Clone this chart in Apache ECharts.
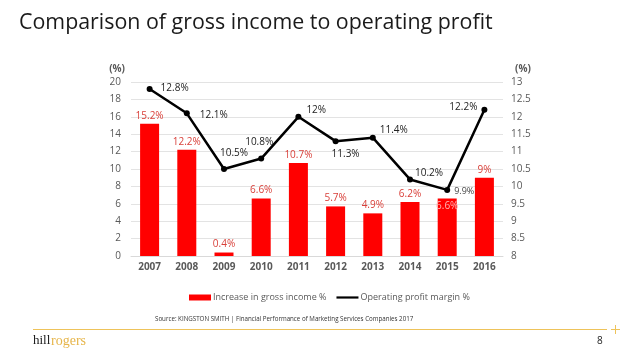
<!DOCTYPE html>
<html>
<head>
<meta charset="utf-8">
<script src="https://cdn.jsdelivr.net/npm/echarts@6/dist/echarts.min.js"></script>
<style>
html,body{margin:0;padding:0;background:#fff;}
#chart{width:638px;height:359px;}
</style>
</head>
<body>
<div id="chart"></div>
<script>
var categories = ['2007','2008','2009','2010','2011','2012','2013','2014','2015','2016'];
var grossIncome = [15.2, 12.2, 0.4, 6.6, 10.7, 5.7, 4.9, 6.2, 6.6, 9];
var profitMargin = [12.8, 12.1, 10.5, 10.8, 12, 11.3, 11.4, 10.2, 9.9, 12.2];
var leftTicks = {min: 0, max: 20, interval: 2};
var rightTicks = {min: 8, max: 13, interval: 0.5};
var seriesNames = ['Increase in gross income %', 'Operating profit margin %'];

var lineLabelCfg = [
  {position:'right', distance:8, offset:[0,-1]},
  {position:'right', distance:10, offset:[0,2]},
  {position:'top', distance:8, offset:[10,0]},
  {position:'top', distance:8, offset:[-2,0]},
  {position:'right', distance:5, offset:[0,-7]},
  {position:'bottom', distance:5, offset:[10,0]},
  {position:'right', distance:4, offset:[0,-8]},
  {position:'right', distance:2, offset:[0,-6]},
  {position:'right', distance:4, offset:[0,2], small:true},
  {position:'left', distance:4, offset:[0,-3]}
];

var barData = grossIncome.map(function(v, i){
  var d = {value: v};
  if (i === 8) {
    d.label = {position:'insideTop', distance:3, color:'#ffb3b3'};
  }
  return d;
});
var lineData = profitMargin.map(function(v, i){
  var c = lineLabelCfg[i];
  var lab = {position:c.position, distance:c.distance, offset:c.offset};
  if (c.small) { lab.fontSize = 9; lab.color = '#444'; }
  return {value: v, label: lab};
});

var chart = echarts.init(document.getElementById('chart'), null, {renderer:'canvas'});
var font = 'Open Sans';
chart.setOption({
  animation: false,
  backgroundColor: '#fff',
  title: {
    text: 'Comparison of gross income to operating profit',
    left: 14, top: 7,
    textStyle: {fontFamily: font, fontSize: 21.4, fontWeight: 'normal', color: '#1a1a1a'}
  },
  grid: {left: 131, right: 135, top: 82, bottom: 103},
  legend: {
    left: 184, top: 288,
    itemGap: 10, itemWidth: 22, itemHeight: 6,
    textStyle: {fontFamily: font, fontSize: 9, color: '#595959', padding: [0,0,0,-3]},
    data: [
      {name: seriesNames[0], icon: 'rect'},
      {name: seriesNames[1], icon: 'path://M0,0 L40,0 L40,4 L0,4 Z'}
    ]
  },
  xAxis: {
    type: 'category', data: categories,
    axisLine: {show: true, lineStyle: {color: '#d9d9d9'}},
    axisTick: {show: false},
    axisLabel: {fontFamily: font, fontSize: 10, fontWeight: 'bold', color: '#595959', margin: 6}
  },
  yAxis: [
    {
      type: 'value', min: leftTicks.min, max: leftTicks.max, interval: leftTicks.interval,
      name: '(%)', nameLocation: 'end', nameGap: 8,
      nameTextStyle: {fontFamily: font, fontSize: 10, color: '#595959', fontWeight: 'bold', align: 'right', padding:[0,6,0,0]},
      axisLine: {show: false}, axisTick: {show: false},
      axisLabel: {fontFamily: font, fontSize: 10, color: '#595959', margin: 10},
      splitLine: {lineStyle: {color: '#e3e3e3'}}
    },
    {
      type: 'value', min: rightTicks.min, max: rightTicks.max, interval: rightTicks.interval,
      name: '(%)', nameLocation: 'end', nameGap: 8,
      nameTextStyle: {fontFamily: font, fontSize: 10, color: '#595959', fontWeight: 'bold', align: 'left', padding:[0,0,0,12]},
      axisLine: {show: false}, axisTick: {show: false},
      axisLabel: {fontFamily: font, fontSize: 10, color: '#595959', margin: 8},
      splitLine: {show: false}
    }
  ],
  series: [
    {
      name: seriesNames[0], type: 'bar', yAxisIndex: 0,
      data: barData, barWidth: 19,
      itemStyle: {color: '#ff0000'},
      label: {show: true, position: 'top', distance: 3, formatter: '{c}%',
        fontFamily: font, fontSize: 10, color: '#d9403a'}
    },
    {
      name: seriesNames[1], type: 'line', yAxisIndex: 1,
      data: lineData,
      symbol: 'circle', symbolSize: 6,
      lineStyle: {color: '#000', width: 2.5},
      itemStyle: {color: '#000'},
      label: {show: true, formatter: '{c}%', fontFamily: font, fontSize: 10, color: '#222'}
    }
  ],
  graphic: [
    {type: 'text', left: 155, top: 316,
      style: {text: 'Source: KINGSTON SMITH | Financial Performance of Marketing Services Companies 2017',
        font: '6.2px "Open Sans"', fill: '#333'}},
    {type: 'line', shape: {x1: 33, y1: 329.5, x2: 607, y2: 329.5}, style: {stroke: '#eec35a', lineWidth: 1}},
    {type: 'line', shape: {x1: 611, y1: 329.5, x2: 620, y2: 329.5}, style: {stroke: '#eec35a', lineWidth: 1}},
    {type: 'line', shape: {x1: 615.5, y1: 325, x2: 615.5, y2: 334}, style: {stroke: '#eec35a', lineWidth: 1}},
    {type: 'text', left: 33, top: 334,
      style: {text: 'hill', font: '13px "Liberation Serif"', fill: '#1a1a1a'}},
    {type: 'text', left: 51, top: 334,
      style: {text: 'rogers', font: '14px "Liberation Serif"', fill: '#e6b54a'}},
    {type: 'text', left: 597, top: 336,
      style: {text: '8', font: '10px "Open Sans"', fill: '#222'}}
  ]
});
</script>
</body>
</html>
